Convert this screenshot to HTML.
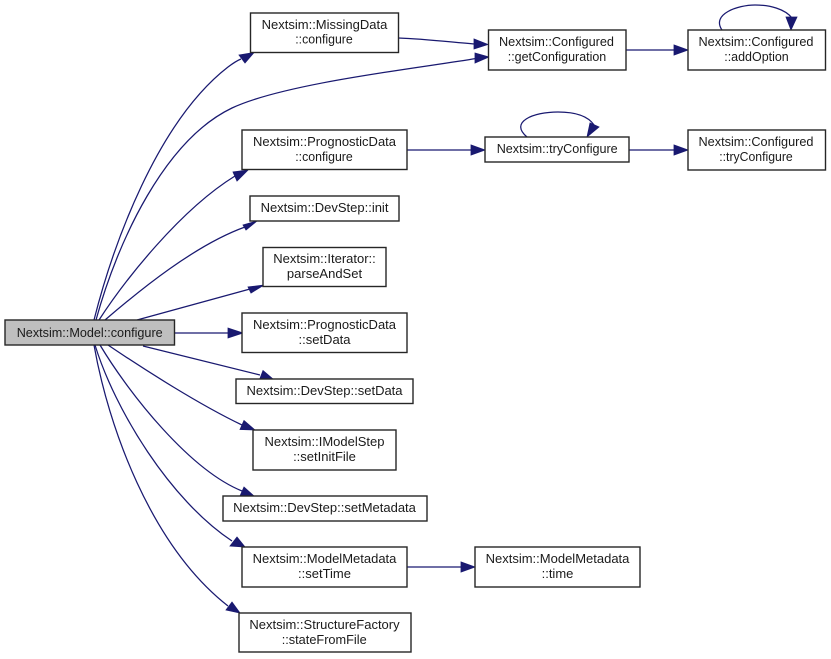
<!DOCTYPE html>
<html>
<head>
<meta charset="utf-8">
<title>Nextsim::Model::configure call graph</title>
<style>
html,body{margin:0;padding:0;background:#fff;width:831px;height:659px;overflow:hidden}
svg{display:block}
.n rect{fill:#fff;stroke:#262626;stroke-width:1.4}
.n text{font-family:"Liberation Sans",sans-serif;font-size:13px;fill:#1a1a1a;text-anchor:middle}
.e path{fill:none;stroke:#191970;stroke-width:1.25}
.e polygon{fill:#191970;stroke:#191970;stroke-width:.8}
</style>
</head>
<body>
<svg xmlns="http://www.w3.org/2000/svg" width="831" height="659" viewBox="0 0 831 659">
<rect x="0" y="0" width="831" height="659" fill="#fff"/>

<g class="e"><path d="M94,320C113,245 157,122 228,67C232,64 236,61 241,59"/><polygon points="254,52.5 239,55 245,63"/></g>
<g class="e"><path d="M96,320C118,240 165,140 232,108C285,83 420,68 476,58.5"/><polygon points="489,57 475,53 475,63"/></g>
<g class="e"><path d="M99,320C125,280 180,210 235,176"/><polygon points="248,170 233,172 237,181"/></g>
<g class="e"><path d="M105,320C140,290 195,245 245,227"/><polygon points="257,221 243,225 246,230"/></g>
<g class="e"><path d="M137,320L250,289"/><polygon points="264,285 248,287 251,293"/></g>
<g class="e"><path d="M174.5,333L229,333"/><polygon points="243,333 228,328 228,338"/></g>
<g class="e"><path d="M143,346L260,375"/><polygon points="273,379 263,370.5 259,381"/></g>
<g class="e"><path d="M108,345C145,370 200,405 242,425"/><polygon points="255,430 244,420.5 240,429.5"/></g>
<g class="e"><path d="M100,345C130,395 190,470 242,491"/><polygon points="254,496 244,487 240,496"/></g>
<g class="e"><path d="M95,345C115,410 170,500 232,541"/><polygon points="245,547 237,537 230,546"/></g>
<g class="e"><path d="M94,345C108,425 150,545 228,606"/><polygon points="240,613 232,602 226,610"/></g>
<g class="e"><path d="M398.5,38C425,39 450,42 475,44"/><polygon points="488,44.5 474,39 474,49"/></g>
<g class="e"><path d="M626,50L675,50"/><polygon points="688,50 674,45 674,55"/></g>
<g class="e"><path d="M722,30C711,14 738,5 755,5C770,5 785,9 792,18"/><polygon points="791,30 786,17 797,17"/></g>
<g class="e"><path d="M407,150L472,150"/><polygon points="485,150 471,145 471,155"/></g>
<g class="e"><path d="M527,137C509,122 533,112 558,112C575,112 588,116 594,125"/><polygon points="587,137 590,123 599,127"/></g>
<g class="e"><path d="M629,150L675,150"/><polygon points="688,150 674,145 674,155"/></g>
<g class="e"><path d="M407,567L462,567"/><polygon points="475,567 461,562 461,572"/></g>

<g class="n"><rect x="5" y="320" width="169.5" height="25" style="fill:#bfbfbf"/><text x="89.7" y="337" textLength="146" lengthAdjust="spacingAndGlyphs">Nextsim::Model::configure</text></g>
<g class="n"><rect x="250.5" y="13" width="148" height="39.5"/><text x="324.5" y="29">Nextsim::MissingData</text><text x="324" y="43.5" textLength="57.5" lengthAdjust="spacingAndGlyphs">::configure</text></g>
<g class="n"><rect x="242" y="130" width="165" height="39.5"/><text x="324.5" y="146">Nextsim::PrognosticData</text><text x="324" y="161" textLength="57.5" lengthAdjust="spacingAndGlyphs">::configure</text></g>
<g class="n"><rect x="250" y="196" width="149" height="25"/><text x="324.5" y="212">Nextsim::DevStep::init</text></g>
<g class="n"><rect x="263" y="247.5" width="123" height="39"/><text x="324.5" y="263">Nextsim::Iterator::</text><text x="324.5" y="278">parseAndSet</text></g>
<g class="n"><rect x="242" y="313" width="165" height="39.5"/><text x="324.5" y="329">Nextsim::PrognosticData</text><text x="324.5" y="344">::setData</text></g>
<g class="n"><rect x="236" y="379" width="177" height="24.5"/><text x="324.5" y="395">Nextsim::DevStep::setData</text></g>
<g class="n"><rect x="253" y="430" width="143" height="40"/><text x="324.5" y="446">Nextsim::IModelStep</text><text x="324.5" y="461">::setInitFile</text></g>
<g class="n"><rect x="223" y="496" width="204" height="25"/><text x="324.5" y="512">Nextsim::DevStep::setMetadata</text></g>
<g class="n"><rect x="242" y="547" width="165" height="40"/><text x="324.5" y="563">Nextsim::ModelMetadata</text><text x="324.5" y="578">::setTime</text></g>
<g class="n"><rect x="239" y="613" width="172" height="39"/><text x="324.5" y="629">Nextsim::StructureFactory</text><text x="324.2" y="644" textLength="85" lengthAdjust="spacingAndGlyphs">::stateFromFile</text></g>
<g class="n"><rect x="488.5" y="30" width="137.5" height="40"/><text x="556.5" y="46" textLength="115" lengthAdjust="spacingAndGlyphs">Nextsim::Configured</text><text x="557" y="61" textLength="98.5" lengthAdjust="spacingAndGlyphs">::getConfiguration</text></g>
<g class="n"><rect x="688" y="30" width="137.5" height="40"/><text x="756" y="46" textLength="115" lengthAdjust="spacingAndGlyphs">Nextsim::Configured</text><text x="756.5" y="61" textLength="64.5" lengthAdjust="spacingAndGlyphs">::addOption</text></g>
<g class="n"><rect x="485" y="137" width="144" height="25"/><text x="557.2" y="153" textLength="121" lengthAdjust="spacingAndGlyphs">Nextsim::tryConfigure</text></g>
<g class="n"><rect x="688" y="130" width="137.5" height="40"/><text x="756" y="146" textLength="115" lengthAdjust="spacingAndGlyphs">Nextsim::Configured</text><text x="756" y="161" textLength="73.5" lengthAdjust="spacingAndGlyphs">::tryConfigure</text></g>
<g class="n"><rect x="475" y="547" width="165" height="40"/><text x="557.5" y="563">Nextsim::ModelMetadata</text><text x="557.5" y="578">::time</text></g>
</svg>
</body>
</html>
